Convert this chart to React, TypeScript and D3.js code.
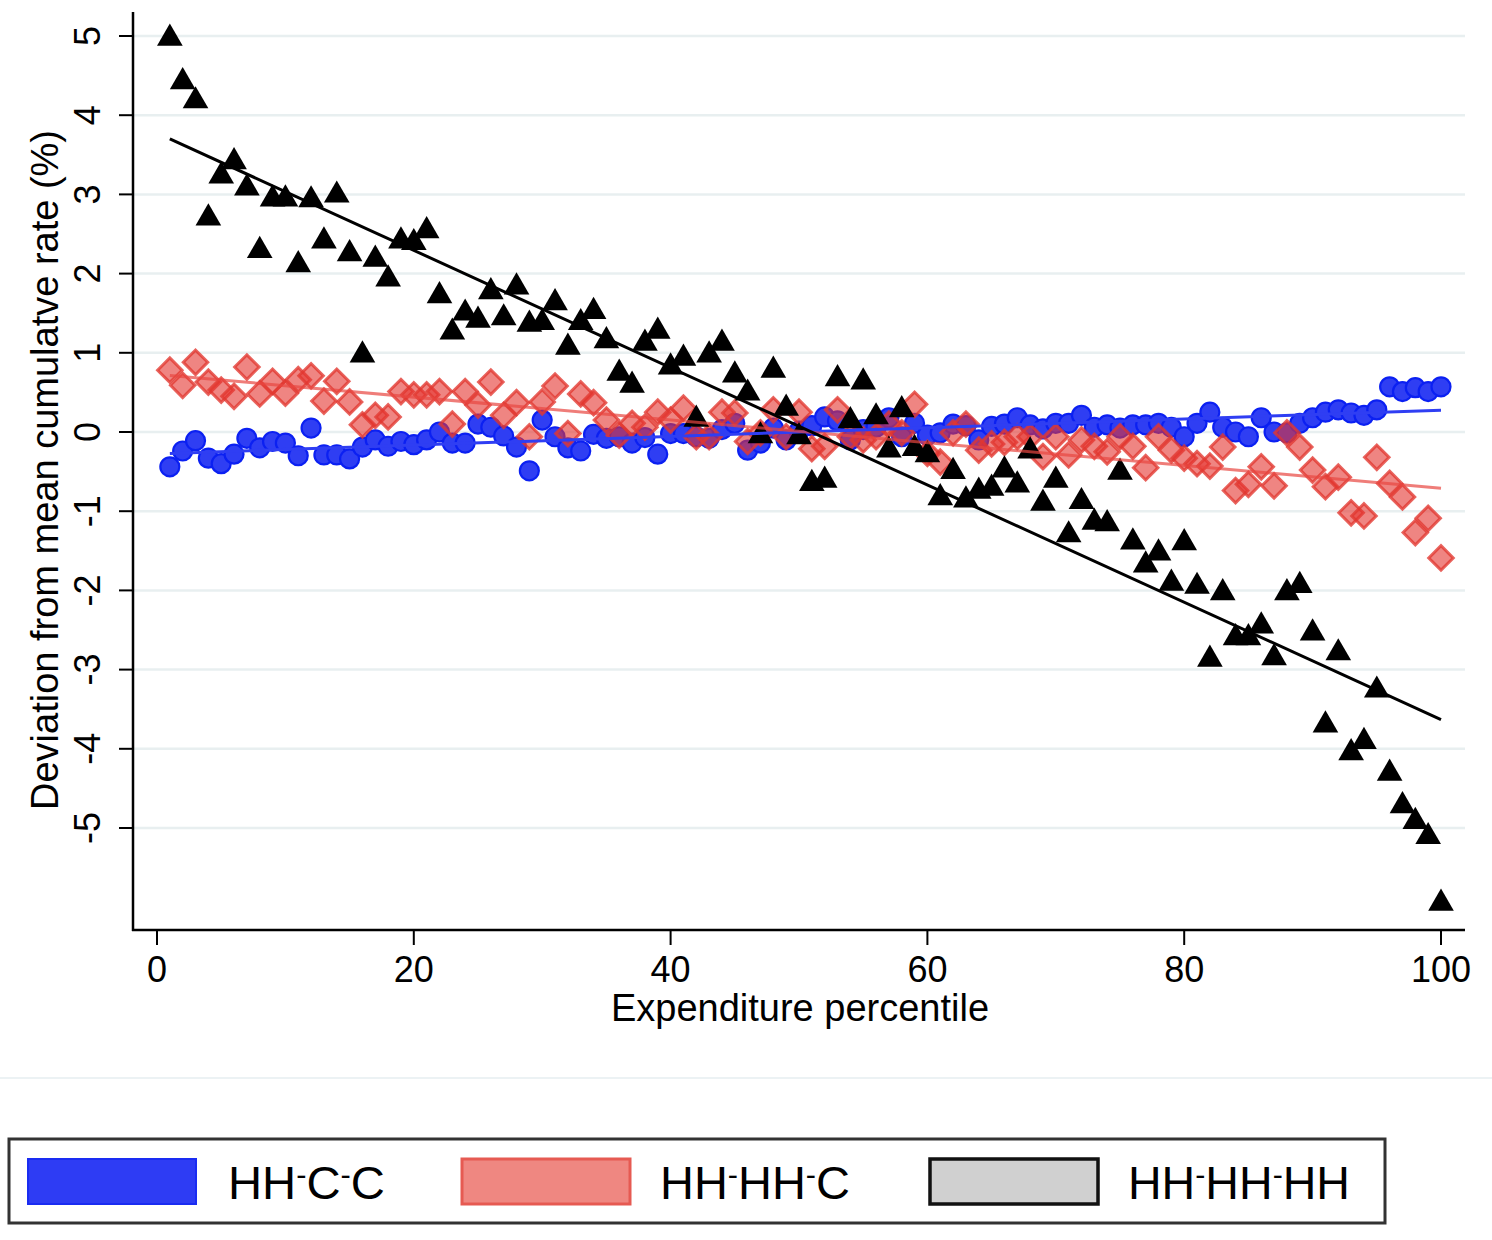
import React from "react";
import * as d3 from "d3";

const percentiles = d3.range(1, 101);

const hhHhHh = [
  4.97, 4.42, 4.18, 2.70, 3.23, 3.41, 3.08, 2.29, 2.94, 2.94,
  2.11, 2.93, 2.41, 2.99, 2.25, 0.97, 2.18, 1.93, 2.41, 2.39,
  2.54, 1.72, 1.26, 1.50, 1.41, 1.77, 1.44, 1.83, 1.36, 1.38,
  1.63, 1.07, 1.38, 1.52, 1.15, 0.74, 0.59, 1.12, 1.27, 0.82,
  0.93, 0.16, 0.97, 1.12, 0.72, 0.49, -0.05, 0.78, 0.30, -0.06,
  -0.65, -0.61, 0.67, 0.14, 0.63, 0.19, -0.23, 0.28, -0.21, -0.29,
  -0.83, -0.50, -0.86, -0.75, -0.71, -0.48, -0.67, -0.24, -0.90, -0.61,
  -1.30, -0.88, -1.14, -1.16, -0.51, -1.39, -1.68, -1.53, -1.91, -1.40,
  -1.95, -2.87, -2.03, -2.60, -2.60, -2.45, -2.85, -2.03, -1.94, -2.54,
  -3.70, -2.79, -4.05, -3.91, -3.26, -4.31, -4.72, -4.92, -5.11, -5.95,
];

const hhHhC = [
  0.78, 0.59, 0.88, 0.63, 0.53, 0.45, 0.82, 0.48, 0.64, 0.49,
  0.66, 0.71, 0.39, 0.64, 0.38, 0.09, 0.21, 0.19, 0.51, 0.47,
  0.47, 0.51, 0.10, 0.51, 0.34, 0.63, 0.21, 0.37, -0.06, 0.38,
  0.58, -0.02, 0.48, 0.37, 0.15, -0.04, 0.11, 0.06, 0.25, 0.15,
  0.30, -0.06, -0.06, 0.25, 0.24, -0.12, -0.01, 0.28, -0.06, 0.25,
  -0.21, -0.18, 0.28, -0.06, -0.10, -0.06, 0.10, -0.01, 0.35, -0.27,
  -0.38, -0.01, 0.10, -0.23, -0.15, -0.13, -0.06, -0.06, -0.31, -0.06,
  -0.29, -0.10, -0.18, -0.25, -0.06, -0.18, -0.45, -0.06, -0.23, -0.33,
  -0.40, -0.43, -0.19, -0.74, -0.66, -0.44, -0.68, -0.01, -0.19, -0.48,
  -0.69, -0.57, -1.02, -1.06, -0.32, -0.65, -0.82, -1.27, -1.09, -1.59,
];

const hhCC = [
  -0.44, -0.24, -0.11, -0.33, -0.40, -0.28, -0.08, -0.20, -0.12, -0.14,
  -0.30, 0.05, -0.29, -0.29, -0.34, -0.19, -0.10, -0.18, -0.12, -0.16,
  -0.10, 0.00, -0.14, -0.14, 0.10, 0.06, -0.05, -0.19, -0.49, 0.15,
  -0.06, -0.20, -0.24, -0.03, -0.08, -0.06, -0.14, -0.07, -0.28, -0.02,
  -0.02, -0.06, -0.08, 0.03, 0.11, -0.23, -0.14, 0.05, -0.10, 0.01,
  0.08, 0.19, 0.14, -0.10, 0.03, 0.06, 0.18, -0.06, 0.11, -0.04,
  -0.01, 0.10, 0.08, -0.10, 0.07, 0.10, 0.18, 0.09, 0.04, 0.11,
  0.11, 0.21, 0.06, 0.09, 0.05, 0.09, 0.09, 0.11, 0.06, -0.06,
  0.11, 0.25, 0.06, 0.00, -0.06, 0.18, 0.00, -0.01, 0.11, 0.18,
  0.25, 0.28, 0.24, 0.21, 0.28, 0.57, 0.51, 0.56, 0.51, 0.57,
];

const xTicks = [0, 20, 40, 60, 80, 100];
const yTicks = [5, 4, 3, 2, 1, 0, -1, -2, -3, -4, -5];
const legendLabels = [
  ["HH", "C", "C"],
  ["HH", "HH", "C"],
  ["HH", "HH", "HH"],
];

const W = 1492;
const H = 1240;
const PL = 133;
const PR = 1465;
const PT = 12;
const PB = 930;

const x = d3.scaleLinear().domain([0, 100]).range([157, 1441]);
const y = d3.scaleLinear().domain([-5, 5]).range([828, 36]);

function fit(xs: number[], ys: number[]) {
  const mx = d3.mean(xs)!;
  const my = d3.mean(ys)!;
  let num = 0;
  let den = 0;
  xs.forEach((v, i) => {
    num += (v - mx) * (ys[i] - my);
    den += (v - mx) * (v - mx);
  });
  const b = num / den;
  const a = my - b * mx;
  return [xs[0], xs[xs.length - 1]].map((v) => [v, a + b * v] as [number, number]);
}

const lineGen = d3
  .line<[number, number]>()
  .x((d) => x(d[0]))
  .y((d) => y(d[1]));

const tri = d3.symbol(d3.symbolTriangle, 285)()!;
const diamond = d3.symbol(d3.symbolSquare, 300)()!;

const FONT = "'Liberation Sans', Arial, Helvetica, sans-serif";

export default function App() {
  const blueFit = fit(percentiles, hhCC);
  const redFit = fit(percentiles, hhHhC);
  const blackFit = fit(percentiles, hhHhHh);

  const swatches = [
    { x: 28, fill: "#2e3cf4", stroke: "#1a2cf2", sw: 2, tx: 228, len: 157 },
    { x: 462, fill: "#ef8781", stroke: "#e65a52", sw: 3, tx: 660, len: 190 },
    { x: 930, fill: "#d0d0d0", stroke: "#111", sw: 3.5, tx: 1128, len: 222 },
  ];

  return (
    <svg
      width={W}
      height={H}
      style={{ position: "absolute", left: 0, top: 0, background: "#fff" }}
      fontFamily={FONT}
    >
      <rect x={0} y={0} width={W} height={H} fill="#fff" />
      {yTicks.map((t) => (
        <line key={"g" + t} x1={PL} x2={PR} y1={y(t)} y2={y(t)} stroke="#e8eff0" strokeWidth={2.5} />
      ))}

      {hhCC.map((v, i) => (
        <circle
          key={"b" + i}
          cx={x(percentiles[i])}
          cy={y(v)}
          r={9.5}
          fill="#2f3ef3"
          stroke="#0b20f2"
          strokeWidth={2.2}
        />
      ))}
      {hhHhC.map((v, i) => (
        <path
          key={"r" + i}
          d={diamond}
          transform={`translate(${x(percentiles[i])},${y(v)}) rotate(45)`}
          fill="rgba(228,52,46,0.6)"
          stroke="rgba(226,55,48,0.78)"
          strokeWidth={3}
        />
      ))}
      {hhHhHh.map((v, i) => (
        <path key={"k" + i} d={tri} transform={`translate(${x(percentiles[i])},${y(v)})`} fill="#000" />
      ))}

      <path d={lineGen(blueFit)!} fill="none" stroke="#2f3ef3" strokeWidth={3} />
      <path d={lineGen(redFit)!} fill="none" stroke="rgba(232,70,64,0.7)" strokeWidth={3} />
      <path d={lineGen(blackFit)!} fill="none" stroke="#000" strokeWidth={3} />

      <line x1={PL} x2={PL} y1={PT} y2={PB + 1} stroke="#000" strokeWidth={2.5} />
      <line x1={PL - 1} x2={PR} y1={PB} y2={PB} stroke="#000" strokeWidth={2.5} />
      {yTicks.map((t) => (
        <g key={"yt" + t}>
          <line x1={PL - 14} x2={PL} y1={y(t)} y2={y(t)} stroke="#000" strokeWidth={2} />
          <text
            transform={`translate(100,${y(t)}) rotate(-90)`}
            textAnchor="middle"
            fontSize={36}
            fill="#000"
          >
            {t}
          </text>
        </g>
      ))}
      {xTicks.map((t) => (
        <g key={"xt" + t}>
          <line x1={x(t)} x2={x(t)} y1={PB} y2={PB + 15} stroke="#000" strokeWidth={2} />
          <text x={x(t)} y={982} textAnchor="middle" fontSize={36} fill="#000">
            {t}
          </text>
        </g>
      ))}

      <text x={800} y={1021} textAnchor="middle" fontSize={38} fill="#000">
        Expenditure percentile
      </text>
      <text transform="translate(58,470) rotate(-90)" textAnchor="middle" fontSize={38} fill="#000">
        Deviation from mean cumulatve rate (%)
      </text>

      <line x1={0} x2={W} y1={1078} y2={1078} stroke="#ecf2f4" strokeWidth={2} />

      <rect x={9} y={1139} width={1376} height={84} fill="#fff" stroke="#333" strokeWidth={3} />
      {swatches.map((s, i) => (
        <g key={"lg" + i}>
          <rect x={s.x} y={1159} width={168} height={45} fill={s.fill} stroke={s.stroke} strokeWidth={s.sw} />
          <text
            x={s.tx}
            y={1199}
            fontSize={46}
            fill="#000"
            textLength={s.len}
            lengthAdjust="spacingAndGlyphs"
          >
            {legendLabels[i].map((part, j) => (
              <React.Fragment key={j}>
                {j > 0 && (
                  <tspan fontSize={30} dy={-14}>
                    -
                  </tspan>
                )}
                <tspan dy={j > 0 ? 14 : 0}>{part}</tspan>
              </React.Fragment>
            ))}
          </text>
        </g>
      ))}
    </svg>
  );
}
